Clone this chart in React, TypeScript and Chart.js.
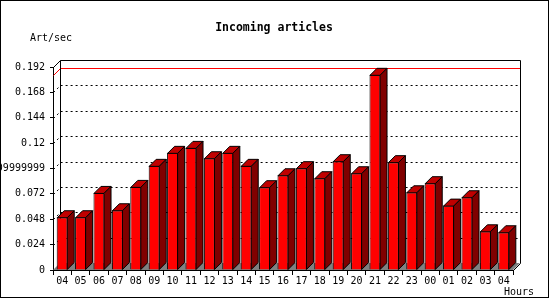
import React, { useEffect, useRef } from "react";
import { Chart, registerables } from "chart.js";

Chart.register(...registerables);

// ---- data ----
const hours = ["04", "05", "06", "07", "08", "09", "10", "11", "12", "13", "14", "15", "16", "17", "18", "19", "20", "21", "22", "23", "00", "01", "02", "03", "04"];
const artPerSec = [0.0499, 0.0499, 0.0729, 0.0565, 0.0786, 0.0985, 0.1108, 0.1155, 0.1057, 0.1108, 0.0985, 0.0783, 0.0896, 0.0963, 0.0868, 0.1029, 0.0915, 0.1846, 0.102, 0.0735, 0.0821, 0.0609, 0.0688, 0.0366, 0.0357];
const yTickValues = [0, 0.024, 0.048, 0.072, 0.096, 0.12, 0.144, 0.168, 0.192];
const yTickLabels = ["0", "0.024", "0.048", "0.072", "0.09999999", "0.12", "0.144", "0.168", "0.192"];
const titleText = "Incoming articles";
const yUnitText = "Art/sec";
const xUnitText = "Hours";

const DEPTH = 7;
const MONO = '"DejaVu Sans Mono", "Liberation Mono", monospace';

export default function App() {
  const ref = useRef<HTMLCanvasElement>(null);

  useEffect(() => {
    document.body.style.margin = "0";
    const canvas = ref.current!;

    const plugin = {
      id: "jp3d",
      beforeDraw(chart: any) {
        const ctx = chart.ctx;
        ctx.save();
        ctx.fillStyle = "#ffffff";
        ctx.fillRect(0, 0, chart.width, chart.height);
        ctx.restore();
      },
      beforeDatasetsDraw(chart: any) {
        const ctx = chart.ctx;
        const a = chart.chartArea;
        const y = chart.scales.y;
        const d = DEPTH;
        const L = Math.round(a.left);
        const R = Math.round(a.right);
        const T = Math.round(a.top);
        const B = Math.round(a.bottom);
        ctx.save();
        // floor
        ctx.fillStyle = "#808080";
        ctx.beginPath();
        ctx.moveTo(L, B);
        ctx.lineTo(L + d, B - d);
        ctx.lineTo(R + d, B - d);
        ctx.lineTo(R, B);
        ctx.closePath();
        ctx.fill();
        // dotted grid on back wall
        ctx.strokeStyle = "#000";
        ctx.lineWidth = 1;
        ctx.setLineDash([2, 3]);
        y.ticks.forEach((t: any) => {
          if (t.value <= 0 || t.value >= y.max) return;
          const py = Math.round(y.getPixelForValue(t.value)) + 0.5;
          ctx.beginPath();
          ctx.moveTo(L + 0.5, py);
          ctx.lineTo(L + d + 0.5, py - d);
          ctx.lineTo(R + d, py - d);
          ctx.stroke();
        });
        ctx.setLineDash([]);
        // max line
        const vals = chart.data.datasets[0].data as number[];
        const maxV = Math.max(...vals);
        const my = Math.round(y.getPixelForValue(maxV)) + 0.5;
        ctx.strokeStyle = "#ff0000";
        ctx.beginPath();
        ctx.moveTo(L + 0.5, my);
        ctx.lineTo(L + d + 0.5, my - d);
        ctx.lineTo(R + d, my - d);
        ctx.stroke();
        // back wall outline
        ctx.strokeStyle = "#000";
        ctx.beginPath();
        ctx.moveTo(L + 0.5, T + 0.5);
        ctx.lineTo(L + d + 0.5, T - d + 0.5);
        ctx.lineTo(R + d + 0.5, T - d + 0.5);
        ctx.lineTo(R + d + 0.5, B - d + 0.5);
        ctx.lineTo(R + 0.5, B + 0.5);
        ctx.stroke();
        ctx.beginPath();
        ctx.moveTo(L + d + 0.5, T - d + 0.5);
        ctx.lineTo(L + d + 0.5, B - d);
        ctx.stroke();
        ctx.restore();
      },
      afterDatasetsDraw(chart: any) {
        const ctx = chart.ctx;
        const d = DEPTH;
        const meta = chart.getDatasetMeta(0);
        ctx.save();
        ctx.lineWidth = 1;
        ctx.strokeStyle = "#000";
        ctx.lineJoin = "miter";
        meta.data.forEach((el: any) => {
          const p = el.getProps(["x", "y", "base", "width"], true);
          const l = p.x - p.width / 2 + 0.5;
          const r = p.x + p.width / 2 - 0.5;
          const t = Math.min(p.y, p.base) + 0.5;
          const b = Math.max(p.y, p.base);
          // top face
          ctx.fillStyle = "#c00000";
          ctx.beginPath();
          ctx.moveTo(l, t);
          ctx.lineTo(l + d, t - d);
          ctx.lineTo(r + d, t - d);
          ctx.lineTo(r, t);
          ctx.closePath();
          ctx.fill();
          ctx.stroke();
          // side face
          ctx.fillStyle = "#800000";
          ctx.beginPath();
          ctx.moveTo(r, t);
          ctx.lineTo(r + d, t - d);
          ctx.lineTo(r + d, b - d);
          ctx.lineTo(r, b);
          ctx.closePath();
          ctx.fill();
          ctx.stroke();
        });
        ctx.restore();
      },
      afterDraw(chart: any) {
        const ctx = chart.ctx;
        ctx.save();
        ctx.fillStyle = "#000";
        ctx.textBaseline = "alphabetic";
        ctx.font = `bold 11.5px ${MONO}`;
        ctx.textAlign = "center";
        ctx.fillText(titleText, 274, 31);
        ctx.font = `10px ${MONO}`;
        ctx.textAlign = "left";
        ctx.fillText(yUnitText, 30, 41);
        ctx.fillText(xUnitText, 504, 295);
        ctx.strokeStyle = "#000";
        ctx.lineWidth = 1;
        ctx.strokeRect(0.5, 0.5, 548, 297);
        ctx.restore();
      },
    };

    const chart = new Chart(canvas, {
      type: "bar",
      data: {
        labels: hours,
        datasets: [
          {
            data: artPerSec,
            backgroundColor: "#ff0000",
            borderColor: "#000000",
            borderWidth: 1,
            barPercentage: 0.6,
            categoryPercentage: 1,
          },
        ],
      },
      options: {
        responsive: false,
        animation: false,
        devicePixelRatio: 1,
        layout: { padding: { top: 67, right: 37, left: 0, bottom: 0 } },
        plugins: {
          legend: { display: false },
          title: { display: false },
          tooltip: { enabled: false },
        },
        scales: {
          x: {
            type: "category",
            offset: true,
            grid: {
              display: true,
              offset: true,
              drawOnChartArea: false,
              drawTicks: true,
              tickLength: 5,
              color: "#000",
            },
            border: { display: true, color: "#000" },
            ticks: {
              color: "#000",
              font: { family: MONO, size: 10 },
              padding: 0,
              maxRotation: 0,
              minRotation: 0,
              autoSkip: false,
            },
            afterFit: (s: any) => {
              s.height = 30;
            },
          },
          y: {
            min: 0,
            max: 0.192,
            afterBuildTicks: (s: any) => {
              s.ticks = yTickValues.map((v) => ({ value: v }));
            },
            ticks: {
              callback: (_v: any, i: number) => yTickLabels[i],
              color: "#000",
              font: { family: MONO, size: 10 },
              padding: 5,
            },
            grid: {
              drawOnChartArea: false,
              drawTicks: true,
              tickLength: 3,
              color: "#000",
            },
            border: { display: true, color: "#000" },
            afterFit: (s: any) => {
              s.width = 53;
            },
          },
        },
      },
      plugins: [plugin],
    } as any);

    return () => chart.destroy();
  }, []);

  return <canvas ref={ref} width={550} height={300} style={{ display: "block" }} />;
}
